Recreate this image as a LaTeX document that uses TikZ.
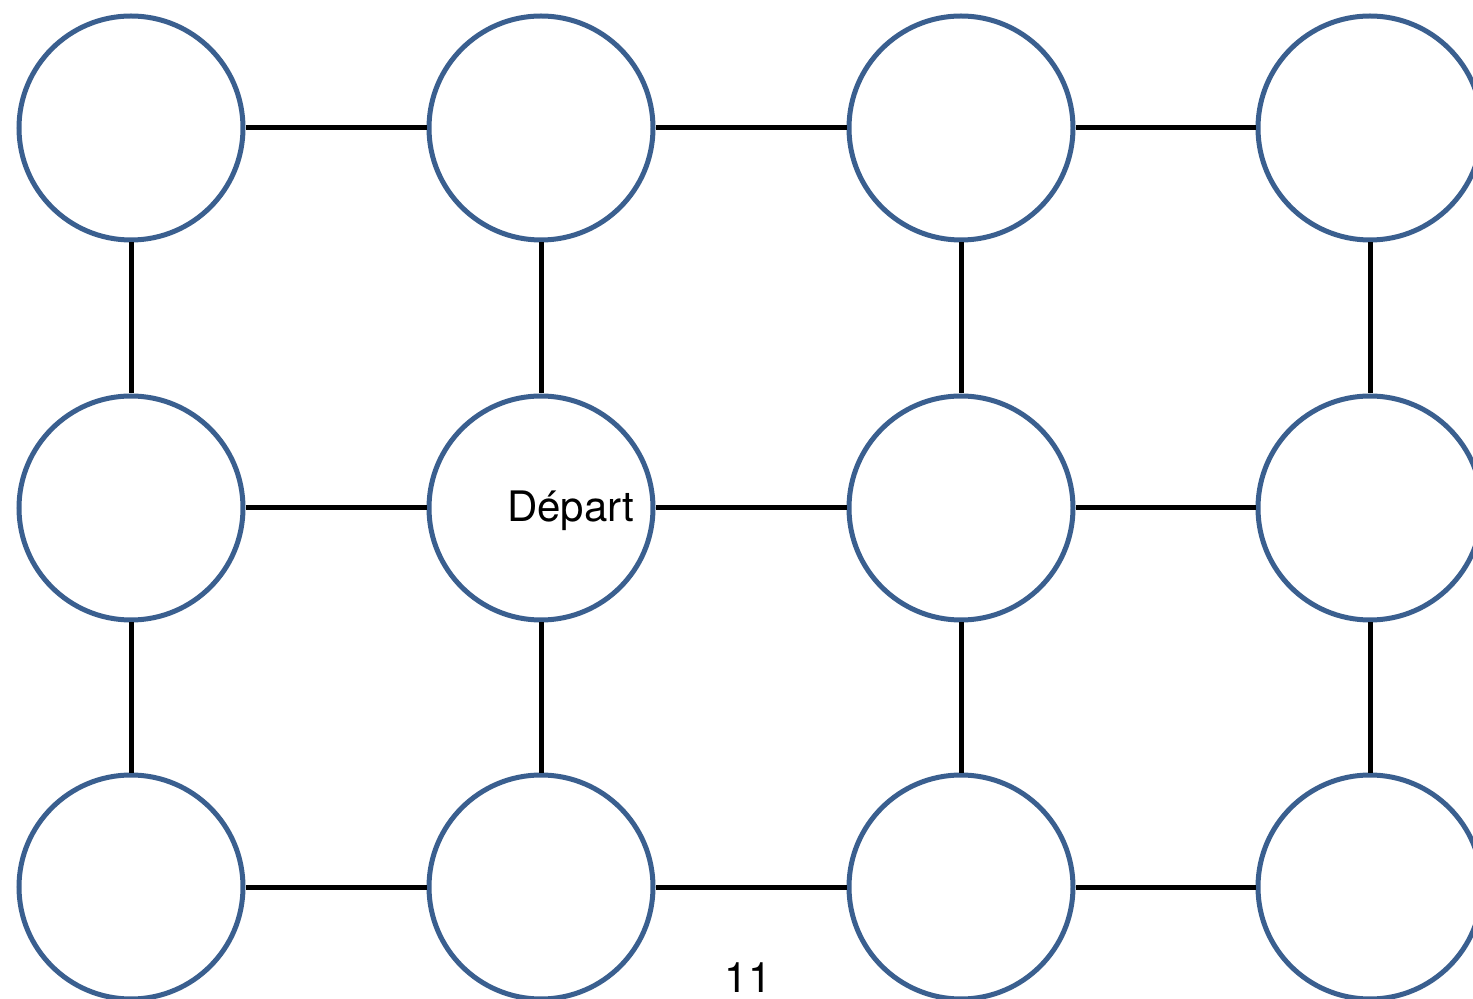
\documentclass[tikz,border=0pt]{standalone}
\usepackage{fontspec}
\setmainfont{TeX Gyre Heros}
\usepackage{tikz}
\definecolor{cellblue}{RGB}{58,95,143}
\tikzstyle{cell}=[circle, draw=cellblue, line width=2.5pt, fill=white, minimum size=112pt, inner sep=0pt]
\tikzstyle{link}=[line width=2.5pt]
\begin{document}
\begin{tikzpicture}[x=0.5pt, y=-0.5pt]
                \useasboundingbox (0, 0) rectangle (1473, 999);
                \node[cell] (a1) at (131, 128) {};
                \node[cell] (b1) at (541, 128) {};
                \node[cell] (c1) at (961, 128) {};
                \node[cell] (d1) at (1370, 128) {};
                \node[cell] (a2) at (131, 508) {};
                \node[cell] (b2) at (541, 508) {};
                \node[cell] (c2) at (961, 508) {};
                \node[cell] (d2) at (1370, 508) {};
                \node[cell] (a3) at (131, 887) {};
                \node[cell] (b3) at (541, 887) {};
                \node[cell] (c3) at (961, 887) {};
                \node[cell] (d3) at (1370, 887) {};
                \node[anchor=base east, inner sep=0pt] (start) at (635, 522) {\fontsize{21pt}{25pt}\selectfont Départ};
                \node[anchor=base, inner sep=0pt] (num) at (748, 992) {\fontsize{21pt}{25pt}\selectfont 11};
                \draw[link] (a1)--(b1) (b1)--(c1) (c1)--(d1);
                \draw[link] (a2)--(b2) (b2)--(c2) (c2)--(d2);
                \draw[link] (a3)--(b3) (b3)--(c3) (c3)--(d3);
                \draw[link] (a1)--(a2) (b1)--(b2) (c1)--(c2) (d1)--(d2);
                \draw[link] (a2)--(a3) (b2)--(b3) (c2)--(c3) (d2)--(d3);
            \end{tikzpicture}
\end{document}
